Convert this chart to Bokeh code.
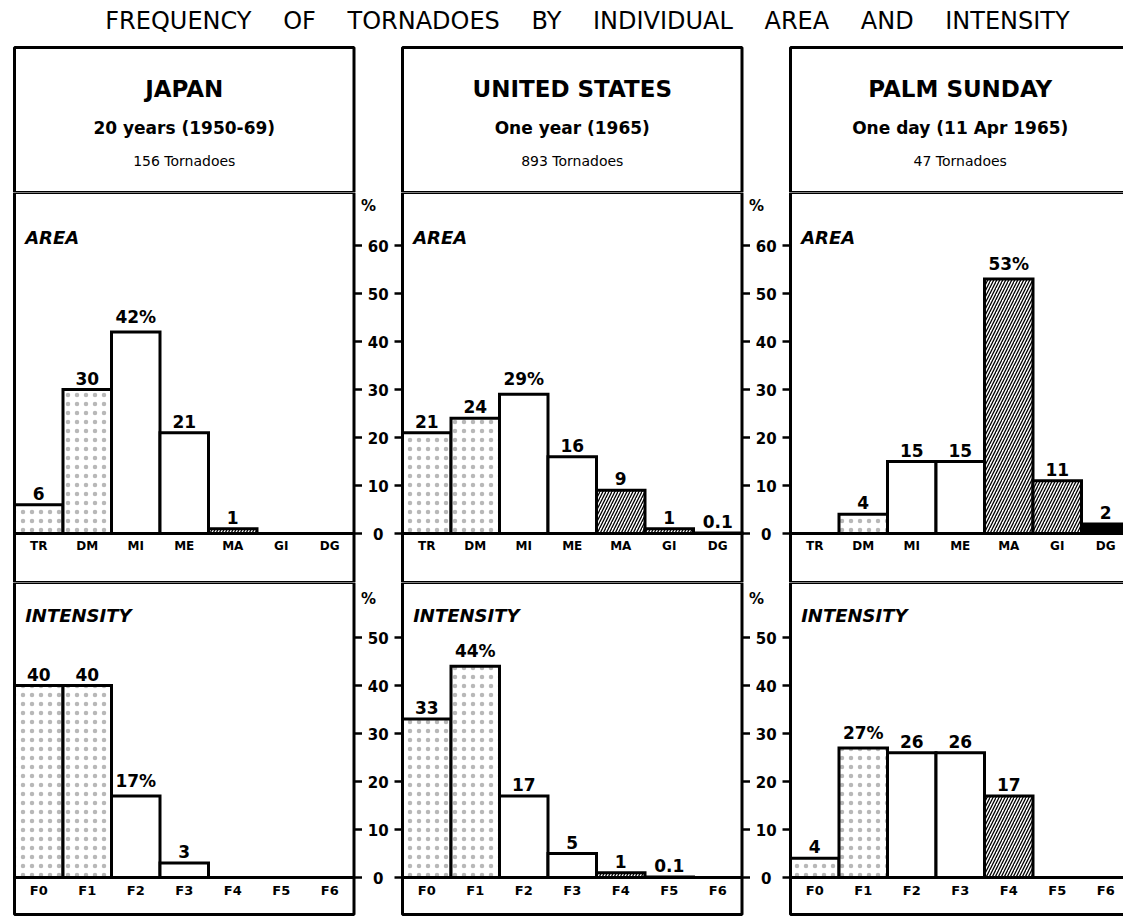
from bokeh.plotting import figure
from bokeh.layouts import column
from bokeh.models import Range1d
from bokeh.core.properties import value
from bokeh.embed import file_html
from bokeh.resources import INLINE

# ---------------- data ----------------
title_words = ["FREQUENCY", "OF", "TORNADOES", "BY", "INDIVIDUAL", "AREA", "AND", "INTENSITY"]
regions = ["JAPAN", "UNITED STATES", "PALM SUNDAY"]
periods = ["20 years (1950-69)", "One year (1965)", "One day (11 Apr 1965)"]
counts = ["156 Tornadoes", "893 Tornadoes", "47 Tornadoes"]

area_cats = ["TR", "DM", "MI", "ME", "MA", "GI", "DG"]
intensity_cats = ["F0", "F1", "F2", "F3", "F4", "F5", "F6"]

japan_area = [6, 30, 42, 21, 1, 0, 0]
us_area = [21, 24, 29, 16, 9, 1, 0.1]
palm_area = [0, 4, 15, 15, 53, 11, 2]
japan_area_labels = ["6", "30", "42%", "21", "1", "", ""]
us_area_labels = ["21", "24", "29%", "16", "9", "1", "0.1"]
palm_area_labels = ["", "4", "15", "15", "53%", "11", "2"]

japan_int = [40, 40, 17, 3, 0, 0, 0]
us_int = [33, 44, 17, 5, 1, 0.1, 0]
palm_int = [4, 27, 26, 26, 17, 0, 0]
japan_int_labels = ["40", "40", "17%", "3", "", "", ""]
us_int_labels = ["33", "44%", "17", "5", "1", "0.1", ""]
palm_int_labels = ["4", "27%", "26", "26", "17", "", ""]

area_ticks = [0, 10, 20, 30, 40, 50, 60]
int_ticks = [0, 10, 20, 30, 40, 50]

# ---------------- styles ----------------
area_style = {"TR": "dots", "DM": "dots", "MI": "plain", "ME": "plain",
              "MA": "hatch", "GI": "hatch", "DG": "solid"}
int_style = {"F0": "dots", "F1": "dots", "F2": "plain", "F3": "plain",
             "F4": "hatch", "F5": "solid", "F6": "solid"}
STYLE_KW = {
    "plain": dict(fill_color="white"),
    "dots": dict(fill_color="white", hatch_pattern="dot", hatch_color="#b8b8b8",
                 hatch_scale=9, hatch_weight=0.5),
    "hatch": dict(fill_color="white", hatch_pattern="right_diagonal_line",
                  hatch_color="black", hatch_scale=6, hatch_weight=1.3),
    "solid": dict(fill_color="black"),
}

FONT = "DejaVu Sans"
PX = 48.5          # pixels per category slot
GROUP = len(area_cats) + 1   # 7 bars + one slot of gap
NG = 7
W = 1123
X0 = -14 / PX
XR = (X0, X0 + W / PX)
PER = 4.8          # pixels per percent
TL = 8 / PX        # tick length in x units


def base_fig(h, yr):
    p = figure(width=W, height=h, x_range=Range1d(*XR), y_range=Range1d(*yr),
               output_backend="svg", toolbar_location=None,
               x_axis_location=None, y_axis_location=None, min_border=0)
    p.min_border_left = p.min_border_right = 0
    p.min_border_top = p.min_border_bottom = 0
    p.grid.visible = False
    p.outline_line_color = None
    p.background_fill_color = "white"
    p.border_fill_color = "white"
    return p


# ---------------- header ----------------
HH = 192
hdr = base_fig(HH, (HH, 0))
hdr.text(x=[X0 + 587 / PX], y=[20],
         text=[" \u2003".join(title_words)], text_align="center", text_baseline="middle",
         text_font=value(FONT), text_font_size="24px", text_color="black")
hdr.quad(left=[g * GROUP for g in range(3)], right=[g * GROUP + NG for g in range(3)],
         top=47, bottom=HH, fill_color=None, line_color="black", line_width=3)
cx = [g * GROUP + NG / 2 for g in range(3)]
hdr.text(x=cx, y=[88] * 3, text=regions, text_align="center", text_baseline="middle",
         text_font=value(FONT), text_font_style="bold", text_font_size="23px")
hdr.text(x=cx, y=[127] * 3, text=periods, text_align="center", text_baseline="middle",
         text_font=value(FONT), text_font_style="bold", text_font_size="17px")
hdr.text(x=cx, y=[160] * 3, text=counts, text_align="center", text_baseline="middle",
         text_font=value(FONT), text_font_size="14px")


def panel(h, yr, box_bottom, cats, styles, series, labels, ticks, heading, heading_y,
          pct_y, cat_size):
    p = base_fig(h, yr)
    # bars by fill style
    for style, kw in STYLE_KW.items():
        L, R, T = [], [], []
        for g, vals in enumerate(series):
            for i, (c, v) in enumerate(zip(cats, vals)):
                if v > 0 and styles[c] == style:
                    L.append(g * GROUP + i)
                    R.append(g * GROUP + i + 1)
                    T.append(v)
        if L:
            p.quad(left=L, right=R, bottom=0, top=T, line_color="black",
                   line_width=3, line_join="miter", **kw)
    # baselines
    p.segment(x0=[g * GROUP for g in range(3)], x1=[g * GROUP + NG for g in range(3)],
              y0=0, y1=0, line_color="black", line_width=3)
    # value labels
    xs, ys, ts = [], [], []
    for g, (vals, labs) in enumerate(zip(series, labels)):
        for i, (v, t) in enumerate(zip(vals, labs)):
            if t:
                xs.append(g * GROUP + i + 0.5)
                ys.append(v)
                ts.append(t)
    p.text(x=xs, y=ys, text=ts, text_align="center", text_baseline="bottom", y_offset=-5,
           text_font=value(FONT), text_font_style="bold", text_font_size="17px")
    # category labels
    cxs = [g * GROUP + i + 0.5 for g in range(3) for i in range(len(cats))]
    cts = [c for g in range(3) for c in cats]
    p.text(x=cxs, y=[0] * len(cxs), text=cts, text_align="center", text_baseline="top",
           y_offset=5, text_font=value(FONT), text_font_style="bold", text_font_size=cat_size)
    # column boxes
    p.quad(left=[g * GROUP for g in range(3)], right=[g * GROUP + NG for g in range(3)],
           bottom=box_bottom, top=yr[1], fill_color=None, line_color="black", line_width=3)
    # axes in the gaps
    for g in range(2):
        gl = g * GROUP + NG
        gr = (g + 1) * GROUP
        p.segment(x0=[gl] * len(ticks), x1=[gl + TL] * len(ticks), y0=ticks, y1=ticks,
                  line_color="black", line_width=2.5)
        p.segment(x0=[gr - TL] * len(ticks), x1=[gr] * len(ticks), y0=ticks, y1=ticks,
                  line_color="black", line_width=2.5)
        p.text(x=[(gl + gr) / 2] * len(ticks), y=ticks, text=[str(t) for t in ticks],
               text_align="center", text_baseline="middle",
               text_font=value(FONT), text_font_style="bold", text_font_size="15px")
        p.text(x=[gl + 0.3], y=[pct_y], text=["%"], text_align="center",
               text_baseline="middle", text_font=value(FONT), text_font_style="bold",
               text_font_size="15px")
    # panel headings
    p.text(x=[g * GROUP + 0.22 for g in range(3)], y=[heading_y] * 3, text=[heading] * 3,
           text_align="left", text_baseline="middle", text_font=value(FONT),
           text_font_style="bold italic", text_font_size="18px")
    return p


AH = 390
area_yr = (-(AH - 341) / PER, 341 / PER)
area = panel(AH, area_yr, area_yr[0], area_cats, area_style,
             [japan_area, us_area, palm_area],
             [japan_area_labels, us_area_labels, palm_area_labels],
             area_ticks, "AREA", 61.7, 68.3, "12px")

IH = 339
int_yr = (-(IH - 295) / PER, 295 / PER)
inten = panel(IH, int_yr, -(914 - 877) / PER, intensity_cats, int_style,
              [japan_int, us_int, palm_int],
              [japan_int_labels, us_int_labels, palm_int_labels],
              int_ticks, "INTENSITY", 54.6, 58.1, "13px")

layout = column(hdr, area, inten, spacing=0)
open("out.html", "w").write(file_html(layout, INLINE))
